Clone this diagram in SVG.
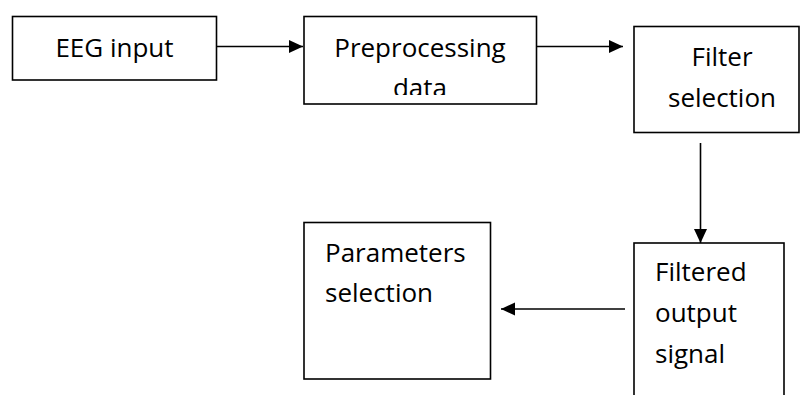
<svg xmlns="http://www.w3.org/2000/svg" width="801" height="395" viewBox="0 0 801 395">
  <style>
    .box { fill: #ffffff; stroke: #000000; stroke-width: 1.6; }
    .lbl { font-family: "Open Sans", "Liberation Sans", sans-serif; font-size: 26px; fill: #000000; }
    .mid { text-anchor: middle; }
    .conn { stroke: #000000; stroke-width: 1.6; fill: none; marker-end: url(#arrow); }
  </style>
  <defs>
    <marker id="arrow" markerUnits="userSpaceOnUse" markerWidth="15" markerHeight="14" refX="14" refY="6.5" orient="auto">
      <path d="M0,0 L14,6.5 L0,13 z" fill="#000000"/>
    </marker>
    <clipPath id="clipPre">
      <rect x="304" y="16" width="233" height="79"/>
    </clipPath>
  </defs>
  <rect x="0" y="0" width="801" height="395" fill="#ffffff"/>

  <g id="connectors">
    <line class="conn" x1="216.5" y1="46.5" x2="303" y2="46.5"/>
    <line class="conn" x1="536.5" y1="46.5" x2="623" y2="46.5"/>
    <line class="conn" x1="700.5" y1="143" x2="700.5" y2="243"/>
    <line class="conn" x1="625" y1="309" x2="501" y2="309"/>
  </g>

  <g id="node-eeg-input">
    <rect class="box" x="12.5" y="16.5" width="204" height="63.5"/>
    <text class="lbl mid" x="114.5" y="56.5">EEG input</text>
  </g>

  <g id="node-preprocessing">
    <rect class="box" x="304" y="16.5" width="232.5" height="87.5"/>
    <g clip-path="url(#clipPre)">
      <text class="lbl mid" x="420" y="56.5">Preprocessing</text>
      <text class="lbl mid" x="420" y="97">data</text>
    </g>
  </g>

  <g id="node-filter-selection">
    <rect class="box" x="634" y="26.5" width="165" height="106"/>
    <text class="lbl mid" x="722" y="66">Filter</text>
    <text class="lbl mid" x="722" y="107">selection</text>
  </g>

  <g id="node-filtered-output">
    <rect class="box" x="634" y="243" width="150" height="170"/>
    <text class="lbl" x="655" y="281">Filtered</text>
    <text class="lbl" x="655" y="322">output</text>
    <text class="lbl" x="655" y="363">signal</text>
  </g>

  <g id="node-parameters-selection">
    <rect class="box" x="304" y="222.5" width="186.5" height="156.5"/>
    <text class="lbl" x="325" y="262">Parameters</text>
    <text class="lbl" x="325" y="302">selection</text>
  </g>
</svg>
